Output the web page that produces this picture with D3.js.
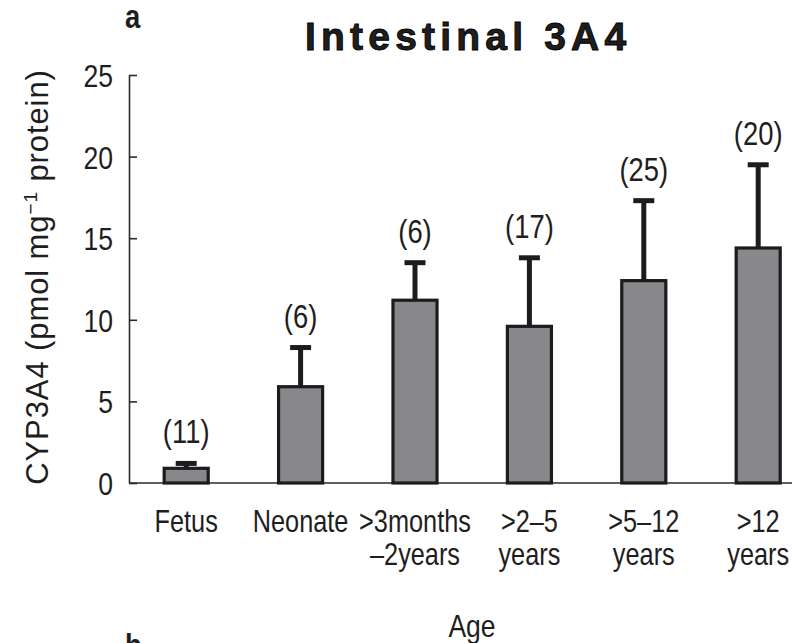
<!DOCTYPE html>
<html>
<head>
<meta charset="utf-8">
<script src="https://cdn.jsdelivr.net/npm/d3@7"></script>
<style>
  body { margin: 0; background: #fff; }
  svg text { fill: #1e1e1e; }
</style>
</head>
<body>
<svg id="chart" width="792" height="643"></svg>
<script>
// Intestinal CYP3A4 content by age group: mean + SD, with n per group
const ageGroups = [["Fetus"], ["Neonate"], [">3months", "–2years"], [">2–5", "years"], [">5–12", "years"], [">12", "years"]];
const meanValues = [0.9, 5.9, 11.2, 9.6, 12.4, 14.4];
const sdValues = [0.3, 2.4, 2.3, 4.2, 4.9, 5.1];
const sampleCounts = [11, 6, 6, 17, 25, 20];
const yTickValues = [0, 5, 10, 15, 20, 25];

const rows = ageGroups.map((lines, i) => ({
  key: lines.join(" "), lines, mean: meanValues[i], sd: sdValues[i], n: sampleCounts[i]
}));

const W = 792;
const plot = { left: 129, top: 75, bottom: 483, right: 815.4 };
const sans = '"Liberation Sans", Arial, Helvetica, sans-serif';
const squeeze = 0.83;   // horizontal condensing for the narrow label face

const svg = d3.select("#chart");

const x = d3.scaleBand()
  .domain(rows.map(d => d.key))
  .range([plot.left, plot.right])
  .paddingInner(0.615)
  .paddingOuter(0.3075);

const y = d3.scaleLinear().domain([0, 25]).range([plot.bottom, plot.top]);

// condensed text helper: places text at (px, py) and narrows glyphs
function condensed(sel, px, py) {
  return sel.attr("x", 0).attr("y", 0)
    .attr("transform", function (d, i) {
      const X = typeof px === "function" ? px(d, i) : px;
      const Y = typeof py === "function" ? py(d, i) : py;
      return `translate(${X},${Y}) scale(${squeeze},1)`;
    })
    .style("font-family", sans);
}

// y axis, ticks pointing into the plot
const yAxis = svg.append("g")
  .attr("transform", `translate(${plot.left},0)`)
  .call(d3.axisLeft(y).tickValues(yTickValues).tickSize(-8).tickSizeOuter(0).tickPadding(16));
yAxis.select(".domain").attr("stroke", "#2a2a2a").attr("stroke-width", 1.6);
yAxis.selectAll(".tick line").attr("stroke", "#2a2a2a").attr("stroke-width", 1.6);
yAxis.selectAll(".tick text")
  .attr("dy", null)
  .call(s => condensed(s, -16, 11.5))
  .style("font-size", "32px").attr("fill", "#1e1e1e");

// baseline running to the right edge
svg.append("line")
  .attr("x1", plot.left).attr("x2", W)
  .attr("y1", y(0)).attr("y2", y(0))
  .attr("stroke", "#2a2a2a").attr("stroke-width", 1.6);

const cx = d => x(d.key) + x.bandwidth() / 2;
const capHalf = 10.5;

// error bars (upper whisker only)
const err = svg.append("g").attr("stroke", "#1c1c1c").attr("stroke-width", 5);
err.selectAll("line.stem").data(rows).join("line").attr("class", "stem")
  .attr("x1", cx).attr("x2", cx)
  .attr("y1", d => y(d.mean)).attr("y2", d => y(d.mean + d.sd));
err.selectAll("line.cap").data(rows).join("line").attr("class", "cap")
  .attr("x1", d => cx(d) - capHalf).attr("x2", d => cx(d) + capHalf)
  .attr("y1", d => y(d.mean + d.sd)).attr("y2", d => y(d.mean + d.sd));

// bars
svg.append("g").selectAll("rect").data(rows).join("rect")
  .attr("x", d => x(d.key)).attr("width", x.bandwidth())
  .attr("y", d => y(d.mean)).attr("height", d => y(0) - y(d.mean))
  .attr("fill", "#88888c").attr("stroke", "#1c1c1c").attr("stroke-width", 3.2);

// n labels above whiskers
svg.append("g").selectAll("text").data(rows).join("text")
  .call(s => condensed(s, cx, d => y(d.mean + d.sd) - 20))
  .attr("text-anchor", "middle")
  .style("font-size", "33px")
  .text(d => `(${d.n})`);

// category labels (one or two lines)
const catLines = rows.flatMap(d => d.lines.map((t, j) => ({ t, j, d })));
svg.append("g").selectAll("text").data(catLines).join("text")
  .call(s => condensed(s, e => cx(e.d), e => 532 + e.j * 33))
  .attr("text-anchor", "middle")
  .style("font-size", "30.5px")
  .text(e => e.t);

// axis titles
svg.append("text")
  .call(s => condensed(s, 472, 637))
  .attr("text-anchor", "middle")
  .style("font-size", "32px")
  .text("Age");

const yl = svg.append("text")
  .attr("transform", `translate(48,${(plot.top + plot.bottom) / 2 - 2}) rotate(-90)`)
  .attr("text-anchor", "middle")
  .style("font-family", sans).style("font-size", "31px").style("letter-spacing", "0.9px");
yl.append("tspan").text("CYP3A4 (pmol mg");
yl.append("tspan").attr("dy", -11).style("font-size", "19px").text("−1");
yl.append("tspan").attr("dy", 11).text(" protein)");

// chart title and panel letters
svg.append("text")
  .attr("x", 305).attr("y", 50)
  .style("font-family", sans).style("font-weight", "bold")
  .style("font-size", "39px").style("letter-spacing", "5.2px")
  .attr("fill", "#000").attr("stroke", "#000").attr("stroke-width", 0.9)
  .text("Intestinal 3A4");

svg.append("text")
  .call(s => condensed(s, 125, 28))
  .style("font-weight", "bold").style("font-size", "33px")
  .text("a");

svg.append("text")
  .call(s => condensed(s, 125, 657))
  .style("font-weight", "bold").style("font-size", "33px")
  .text("b");
</script>
</body>
</html>
